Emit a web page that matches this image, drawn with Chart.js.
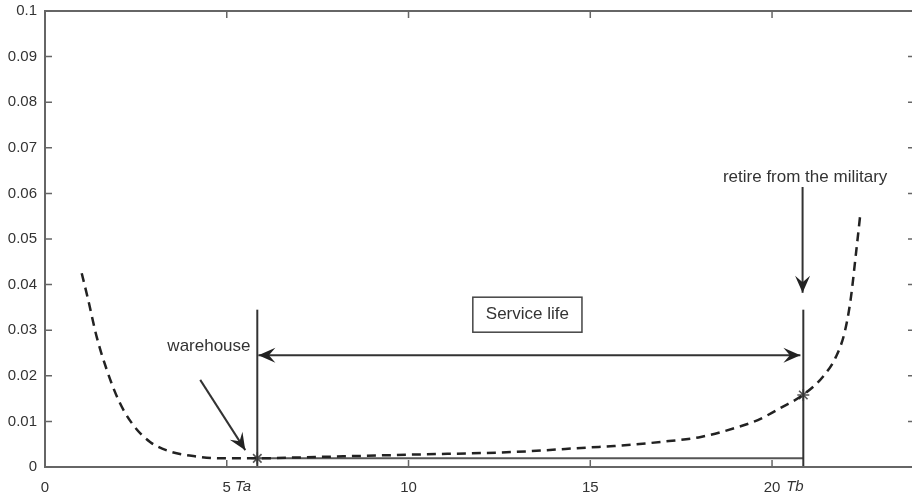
<!DOCTYPE html>
<html>
<head>
<meta charset="utf-8">
<script src="https://cdn.jsdelivr.net/npm/chart.js@4.4.1/dist/chart.umd.min.js"></script>
<style>
html,body{margin:0;padding:0;background:#fff;}
#wrap{width:912px;height:498px;position:relative;}
</style>
</head>
<body>
<div id="wrap"><canvas id="c" width="912" height="498"></canvas></div>
<script>
// ---- data ----
const curveX = [1.01, 1.19, 1.42, 1.70, 2.02, 2.39, 2.89, 3.44, 4.18, 4.82, 5.84, 7.0, 8.5, 10.0, 12.9, 15.0, 15.66, 16.94, 18.04, 18.96, 19.61, 20.29, 20.85, 21.40, 21.76, 21.99, 22.16, 22.31, 22.43];
const curveY = [0.0425, 0.0366, 0.0286, 0.0213, 0.0147, 0.0096, 0.0055, 0.0034, 0.0023, 0.0019, 0.0019, 0.0021, 0.0024, 0.0027, 0.0033, 0.0043, 0.0046, 0.0055, 0.0066, 0.0085, 0.0103, 0.0132, 0.0158, 0.0198, 0.0242, 0.0293, 0.0366, 0.0469, 0.0556];
const Ta = 5.84;
const Tb = 20.86;
const rateAtTa = 0.0019;
const rateAtTb = 0.0158;
const markerTop = 0.0345;
const xTicks = [0, 5, 10, 15, 20];
const xTickLabels = ['0', '5', '10', '15', '20'];
const yTicks = [0, 0.01, 0.02, 0.03, 0.04, 0.05, 0.06, 0.07, 0.08, 0.09, 0.1];
const yTickLabels = ['0', '0.01', '0.02', '0.03', '0.04', '0.05', '0.06', '0.07', '0.08', '0.09', '0.1'];
const xRange = [0, 23.85];
const yRange = [0, 0.1];
// annotations (data coordinates)
const arrowWarehouse = {from: [4.27, 0.0191], to: [5.51, 0.0037]};
const arrowRetire = {from: [20.84, 0.0614], to: [20.84, 0.0382]};
const arrowService = {from: [5.87, 0.0245], to: [20.78, 0.0245]};
const textWarehouse = {text: 'warehouse', at: [4.51, 0.0265]};
const textRetire = {text: 'retire from the military', at: [20.91, 0.0636]};
const textService = {text: 'Service life', at: [13.27, 0.0334]};
const axisSymbols = [{text: 'Ta', at: 5.45}, {text: 'Tb', at: 20.63}];

const FONT = '"Liberation Sans", Arial, Helvetica, sans-serif';
const TXT = '#333';

const curveData = curveX.map((x, i) => ({x, y: curveY[i]}));

function px(chart, x) { return chart.scales.x.getPixelForValue(x); }
function py(chart, y) { return chart.scales.y.getPixelForValue(y); }

function arrowHead(ctx, tx, ty, fx, fy) {
  const dx = tx - fx, dy = ty - fy;
  const len = Math.hypot(dx, dy);
  const ux = dx / len, uy = dy / len;
  const nx = -uy, ny = ux;
  const L = 17, W = 7.5;
  ctx.beginPath();
  ctx.moveTo(tx, ty);
  ctx.lineTo(tx - ux * L + nx * W, ty - uy * L + ny * W);
  ctx.lineTo(tx - ux * L * 0.62, ty - uy * L * 0.62);
  ctx.lineTo(tx - ux * L - nx * W, ty - uy * L - ny * W);
  ctx.closePath();
  ctx.fill();
}

function drawArrow(chart, a, both) {
  const ctx = chart.ctx;
  const fx = px(chart, a.from[0]), fy = py(chart, a.from[1]);
  const tx = px(chart, a.to[0]), ty = py(chart, a.to[1]);
  ctx.save();
  ctx.strokeStyle = '#333';
  ctx.fillStyle = '#222';
  ctx.lineWidth = 2;
  ctx.beginPath();
  ctx.moveTo(fx, fy);
  ctx.lineTo(tx, ty);
  ctx.stroke();
  arrowHead(ctx, tx, ty, fx, fy);
  if (both) arrowHead(ctx, fx, fy, tx, ty);
  ctx.restore();
}

const decorPlugin = {
  id: 'decor',
  afterDatasetsDraw(chart) {
    const ctx = chart.ctx;
    const a = chart.chartArea;
    ctx.save();
    // axes box
    ctx.strokeStyle = '#666';
    ctx.lineWidth = 2;
    ctx.beginPath();
    ctx.moveTo(a.left, a.top);
    ctx.lineTo(a.right + 2, a.top);
    ctx.moveTo(a.left, a.top - 1);
    ctx.lineTo(a.left, a.bottom);
    ctx.lineTo(a.right + 2, a.bottom);
    ctx.stroke();
    // inward ticks
    const tl = 7;
    ctx.lineWidth = 1.5;
    ctx.beginPath();
    xTicks.forEach(v => {
      const x = px(chart, v);
      ctx.moveTo(x, a.bottom); ctx.lineTo(x, a.bottom - tl);
      ctx.moveTo(x, a.top); ctx.lineTo(x, a.top + tl);
    });
    yTicks.forEach(v => {
      const y = py(chart, v);
      ctx.moveTo(a.left, y); ctx.lineTo(a.left + tl, y);
      ctx.moveTo(a.right, y); ctx.lineTo(a.right - 4, y);
    });
    ctx.stroke();
    ctx.restore();

    // arrows
    drawArrow(chart, arrowWarehouse, false);
    drawArrow(chart, arrowRetire, false);
    drawArrow(chart, arrowService, true);

    // texts
    ctx.save();
    ctx.fillStyle = TXT;
    ctx.font = '17px ' + FONT;
    ctx.textAlign = 'center';
    ctx.textBaseline = 'middle';
    [textWarehouse, textRetire].forEach(t => {
      ctx.fillText(t.text, px(chart, t.at[0]), py(chart, t.at[1]));
    });
    const sx = px(chart, textService.at[0]), sy = py(chart, textService.at[1]);
    ctx.fillText(textService.text, sx, sy);
    const w = ctx.measureText(textService.text).width + 26;
    ctx.strokeStyle = '#444';
    ctx.lineWidth = 1.5;
    ctx.strokeRect(sx - w / 2, sy - 17.5, w, 35);
    // italic axis symbols
    ctx.font = 'italic 15px ' + FONT;
    axisSymbols.forEach(s => {
      ctx.fillText(s.text, px(chart, s.at), 487);
    });
    ctx.restore();
  }
};

new Chart(document.getElementById('c'), {
  type: 'scatter',
  data: {
    datasets: [
      {
        label: 'failure rate',
        data: curveData,
        showLine: true,
        borderColor: '#222',
        borderWidth: 2.5,
        borderDash: [9, 6],
        pointRadius: 0,
        cubicInterpolationMode: 'monotone'
      },
      {
        label: 'Ta line',
        data: [{x: Ta, y: 0}, {x: Ta, y: markerTop}],
        showLine: true, borderColor: '#333', borderWidth: 2, pointRadius: 0
      },
      {
        label: 'Tb line',
        data: [{x: Tb, y: 0}, {x: Tb, y: markerTop}],
        showLine: true, borderColor: '#333', borderWidth: 2, pointRadius: 0
      },
      {
        label: 'service base',
        data: [{x: Ta, y: rateAtTa}, {x: Tb, y: rateAtTa}],
        showLine: true, borderColor: '#555', borderWidth: 2, pointRadius: 0
      },
      {
        label: 'markers',
        data: [{x: Ta, y: rateAtTa}, {x: Tb, y: rateAtTb}],
        showLine: false,
        pointStyle: 'star',
        pointRadius: 6,
        borderColor: '#555',
        borderWidth: 1.6,
        backgroundColor: '#555'
      }
    ]
  },
  options: {
    responsive: false,
    animation: false,
    devicePixelRatio: 1,
    layout: {autoPadding: false, padding: {top: 11, right: 0, left: 0, bottom: 0}},
    plugins: {legend: {display: false}, tooltip: {enabled: false}},
    scales: {
      x: {
        type: 'linear',
        min: xRange[0], max: xRange[1],
        grid: {display: false, drawTicks: false},
        border: {display: false},
        afterBuildTicks: s => { s.ticks = xTicks.map(v => ({value: v})); },
        afterFit: s => { s.height = 31; s.paddingLeft = 0; s.paddingRight = 0; },
        ticks: {
          padding: 12,
          color: TXT,
          font: {family: FONT, size: 15},
          maxRotation: 0,
          callback: (v) => { const i = xTicks.indexOf(v); return i >= 0 ? xTickLabels[i] : ''; }
        }
      },
      y: {
        type: 'linear',
        min: yRange[0], max: yRange[1],
        grid: {display: false, drawTicks: false},
        border: {display: false},
        afterBuildTicks: s => { s.ticks = yTicks.map(v => ({value: v})); },
        afterFit: s => { s.width = 45; s.paddingTop = 0; s.paddingBottom = 0; },
        ticks: {
          padding: 8,
          color: TXT,
          font: {family: FONT, size: 15},
          callback: (v) => { const i = yTicks.findIndex(t => Math.abs(t - v) < 1e-9); return i >= 0 ? yTickLabels[i] : ''; }
        }
      }
    }
  },
  plugins: [decorPlugin]
});
</script>
</body>
</html>
